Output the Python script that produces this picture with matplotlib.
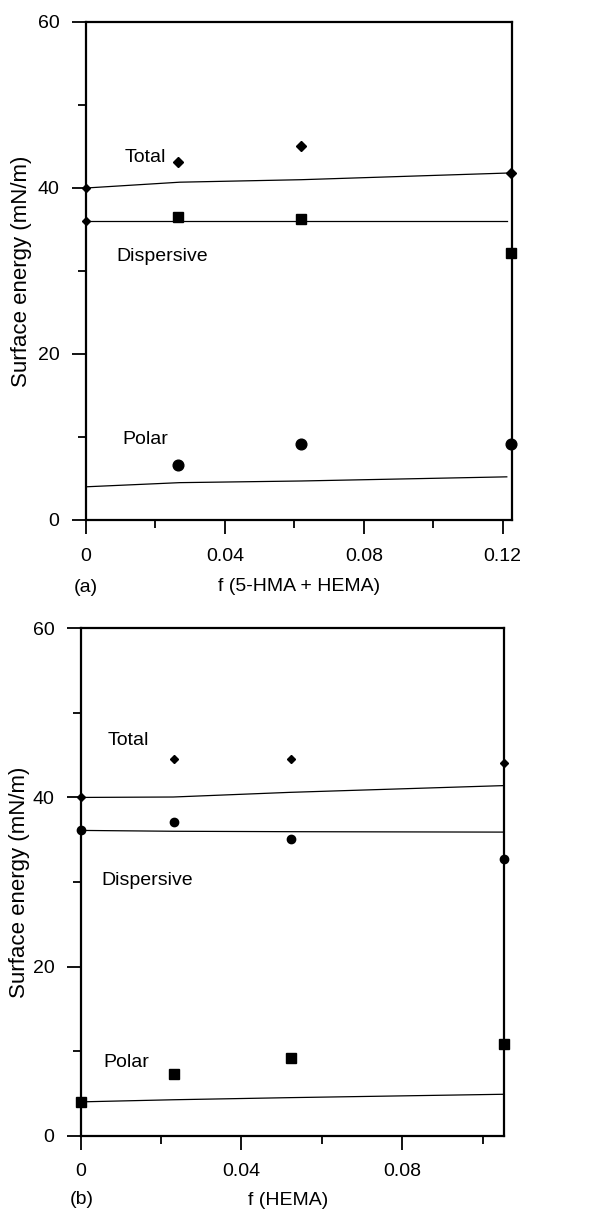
import numpy as np
import matplotlib
matplotlib.use('Agg')
import matplotlib.pyplot as plt
from matplotlib.ticker import MultipleLocator

plt.rcParams['font.family'] = ['Liberation Sans', 'DejaVu Sans']
plt.rcParams['font.size'] = 14

# panel (a): f (5-HMA + HEMA)
xa = [0.0266, 0.062, 0.1225]
a_total = [43.1, 45.1, 41.8]
a_disp = [36.5, 36.3, 32.2]
a_polar = [6.6, 9.2, 9.2]
a_x0 = [0.0, 0.0]
a_y0 = [40.0, 36.0]          # total / dispersive at f = 0
a_fit_x = [0.0, 0.027, 0.062, 0.1212]
a_fit_total = [40.0, 40.7, 41.0, 41.8]
a_fit_disp = [36.0, 36.0, 36.0, 36.0]
a_fit_polar = [4.0, 4.5, 4.7, 5.2]

# panel (b): f (HEMA)
xb = [0.0, 0.0232, 0.0523, 0.1053]
b_total = [40.0, 44.5, 44.5, 44.1]
b_disp = [36.1, 37.1, 35.1, 32.75]
b_polar = [4.0, 7.26, 9.15, 10.84]
b_fit_x = [0.0, 0.023, 0.052, 0.1053]
b_fit_total = [40.0, 40.05, 40.6, 41.4]
b_fit_disp = [36.1, 36.0, 35.95, 35.9]
b_fit_polar = [4.0, 4.25, 4.5, 4.9]

W, H = 610, 1212
fig = plt.figure(figsize=(W / 100, H / 100), dpi=100)


def px_axes(l, r, t, b):
    return fig.add_axes([l / W, 1 - b / H, (r - l) / W, (b - t) / H])


def style(ax, xmax, xlab, ylab_x, xlab_xy):
    ax.set_ylim(0, 60)
    ax.set_xlim(0, xmax)
    ax.yaxis.set_major_locator(MultipleLocator(20))
    ax.yaxis.set_minor_locator(MultipleLocator(10))
    ax.xaxis.set_major_locator(MultipleLocator(0.04))
    ax.xaxis.set_minor_locator(MultipleLocator(0.02))
    ax.xaxis.set_major_formatter(lambda v, p: '0' if v == 0 else f'{v:.2f}')
    ax.tick_params(which='major', direction='out', length=10, width=1.3,
                   top=False, right=False)
    ax.tick_params(axis='x', which='major', pad=10)
    ax.tick_params(axis='y', which='major', pad=9)
    ax.tick_params(which='minor', direction='out', length=6, width=1.3,
                   top=False, right=False)
    for s in ax.spines.values():
        s.set_linewidth(1.6)
    ax.set_ylabel('Surface energy (mN/m)', fontsize=16, va='center')
    ax.yaxis.set_label_coords(ylab_x, 0.5)
    ax.set_xlabel(xlab, va='center')
    ax.xaxis.set_label_coords(*xlab_xy)


# ---- (a)
ax1 = px_axes(86, 512, 22, 520)
style(ax1, 0.1227, 'f (5-HMA + HEMA)', (22 - 86) / 426, (0.5, -0.1345))
ax1.plot(a_fit_x, a_fit_total, c='k', lw=0.9)
ax1.plot(a_fit_x, a_fit_disp, c='k', lw=0.9)
ax1.plot(a_fit_x, a_fit_polar, c='k', lw=0.9)
ax1.plot(a_x0, a_y0, 'D', c='k', ms=4, ls='none', clip_on=False, zorder=5)
ax1.plot(xa, a_total, 'D', c='k', ms=5, ls='none', clip_on=False, zorder=5)
ax1.plot(xa, a_disp, 's', c='k', ms=6.7, ls='none', clip_on=False, zorder=5)
ax1.plot(xa, a_polar, 'o', c='k', ms=7.7, ls='none', clip_on=False, zorder=5)
ax1.text(0.0111, 43.7, 'Total', va='center')
ax1.text(0.0088, 31.8, 'Dispersive', va='center')
ax1.text(0.0104, 9.7, 'Polar', va='center')
fig.text(74 / W, 1 - 587 / H, '(a)', va='center', ha='left')

# ---- (b)
ax2 = px_axes(80.7, 504, 628.3, 1135.7)
style(ax2, 0.1053, 'f (HEMA)', (20 - 80.7) / 423.3, (0.49, -0.128))
ax2.plot(b_fit_x, b_fit_total, c='k', lw=0.9)
ax2.plot(b_fit_x, b_fit_disp, c='k', lw=0.9)
ax2.plot(b_fit_x, b_fit_polar, c='k', lw=0.9)
ax2.plot(xb, b_total, 'D', c='k', ms=4, ls='none', clip_on=False, zorder=5)
ax2.plot(xb, b_disp, 'o', c='k', ms=6, ls='none', clip_on=False, zorder=5)
ax2.plot(xb, b_polar, 's', c='k', ms=6.5, ls='none', clip_on=False, zorder=5)
ax2.text(0.0066, 46.7, 'Total', va='center')
ax2.text(0.0052, 30.2, 'Dispersive', va='center')
ax2.text(0.0056, 8.6, 'Polar', va='center')
fig.text(70 / W, 1 - 1199 / H, '(b)', va='center', ha='left')

fig.savefig('out.png', dpi=100)
